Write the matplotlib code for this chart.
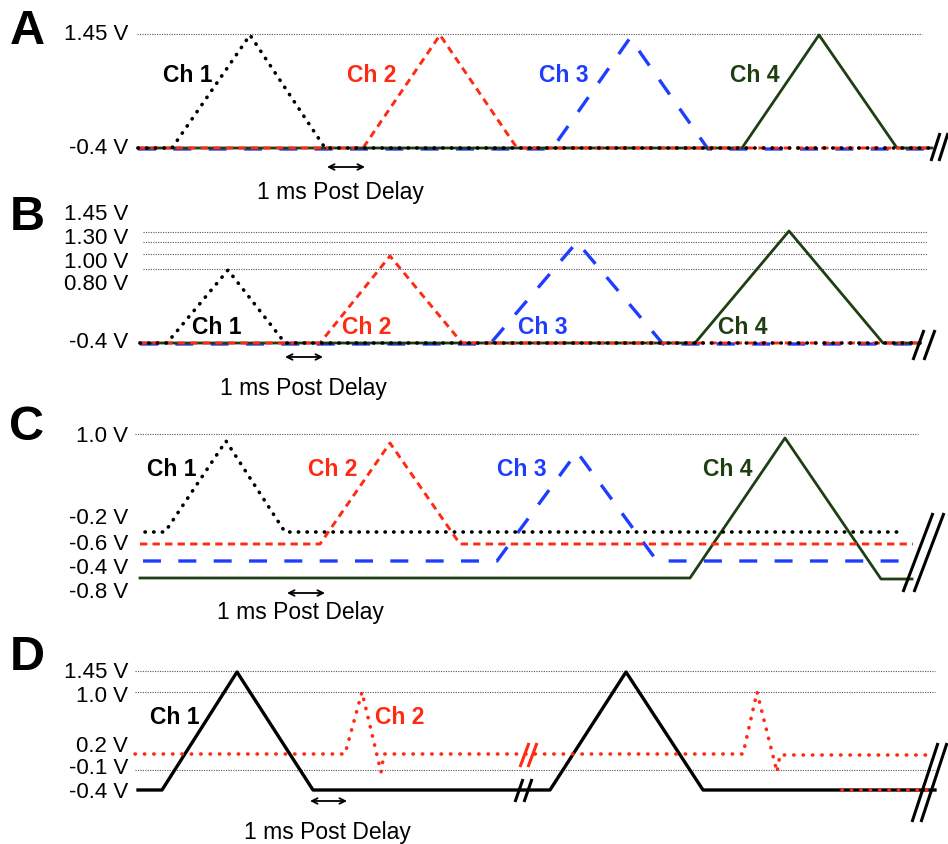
import matplotlib
matplotlib.use("Agg")
import matplotlib.pyplot as plt

plt.rcParams['font.family'] = ['Liberation Sans', 'DejaVu Sans']

RED = '#ff2a12'
BLUE = '#1f3dff'
GREEN = '#1f3f12'
BLACK = '#000000'

# ---------------- Panel data (diagram coordinates: x = time, y = level) ----------------
# Panel A
A_ticks = ['1.45 V', '-0.4 V']
A_tick_y = [34, 148]
A_grid_y = [34]
A_ch1_x = [138, 172, 250, 325, 932]; A_ch1_y = [148, 148, 35, 148, 148]
A_ch2_x = [138, 363, 440, 517, 932]; A_ch2_y = [148, 148, 35, 148, 148]
A_ch3_x = [138, 552, 630, 708, 932]; A_ch3_y = [149, 149, 38, 149, 149]
A_ch4_x = [138, 742, 819, 897, 932]; A_ch4_y = [148, 148, 35, 148, 148]
A_labels_x = [188, 372, 564, 755]; A_labels_y = 75

# Panel B
B_ticks = ['1.45 V', '1.30 V', '1.00 V', '0.80 V', '-0.4 V']
B_tick_y = [215, 238, 262, 285, 342]
B_grid_y = [232, 242, 254, 269]
B_ch1_x = [140, 167, 228, 285, 920]; B_ch1_y = [343, 343, 270, 343, 343]
B_ch2_x = [140, 320, 390, 462, 920]; B_ch2_y = [343, 343, 256, 343, 343]
B_ch3_x = [140, 490, 577, 663, 920]; B_ch3_y = [344, 344, 242, 344, 344]
B_ch4_x = [140, 695, 789, 883, 920]; B_ch4_y = [343, 343, 231, 343, 343]
B_labels_x = [217, 367, 543, 743]; B_labels_y = 327

# Panel C
C_ticks = ['1.0 V', '-0.2 V', '-0.6 V', '-0.4 V', '-0.8 V']
C_tick_y = [437, 518, 544, 568, 592]
C_grid_y = [434]
C_ch1_x = [145, 165, 226, 285, 903]; C_ch1_y = [532, 532, 441, 532, 532]
C_ch2_x = [140, 320, 390, 460, 913]; C_ch2_y = [544, 544, 443, 544, 544]
C_ch3_x = [143, 497, 577, 657, 915]; C_ch3_y = [561, 561, 452, 561, 561]
C_ch4_x = [140, 690, 785, 881, 912]; C_ch4_y = [578, 578, 438, 579, 579]
C_labels_x = [172, 333, 522, 728]; C_labels_y = 470

# Panel D
D_ticks = ['1.45 V', '1.0 V', '0.2 V', '-0.1 V', '-0.4 V']
D_tick_y = [673, 697, 747, 769, 793]
D_grid_y = [671, 692, 770]
D_ch1_x = [138, 162, 237, 313, 550, 626, 703, 935]
D_ch1_y = [790, 790, 672, 790, 790, 672, 790, 790]
D_ch2_x = [135, 345, 362, 381, 384, 743, 757, 777, 780, 933]
D_ch2_y = [754, 754, 692, 772, 754, 754, 692, 772, 755, 755]
D_ch2_tail_x = [842, 935]; D_ch2_tail_y = [790, 790]
D_labels_x = [175, 400]; D_labels_y = 718

panel_letters = ['A', 'B', 'C', 'D']
panel_letter_y = [32, 218, 428, 658]
grid_x = [(137, 922), (143, 927), (135, 918), (135, 935)]
delay_arrow = [(327, 365, 167), (285, 323, 357), (287, 325, 593), (310, 347, 801)]
delay_text = [(340, 192), (303, 389), (300, 613), (327, 832)]
# break marks: (x_bottom, y_bottom, x_top, y_top, spacing, colour)
breaks = [(931, 161, 940, 133, 8, BLACK),
          (913, 360, 924, 330, 11, BLACK),
          (903, 592, 933, 513, 11, BLACK),
          (515, 802, 523, 779, 9, BLACK),
          (520, 767, 529, 743, 8, RED),
          (912, 822, 938, 743, 9, BLACK)]

# ---------------- Styles ----------------
sty1 = dict(color=BLACK, lw=2.6, ls=(0, (0.1, 2.3)), dash_capstyle='round', zorder=5)
sty2 = dict(color=RED, lw=2.1, ls=(0, (2.5, 1.8)), zorder=4)
sty3 = dict(color=BLUE, lw=2.4, ls=(0, (5.4, 5.2)), zorder=2)
sty4 = dict(color=GREEN, lw=2.0, ls='-', zorder=3)
grid_sty = dict(color='#555555', lw=0.8, ls=(0, (1.0, 1.2)), zorder=1)

fig = plt.figure(figsize=(9.48, 8.44), dpi=100)
ax = fig.add_axes([0, 0, 1, 1])
ax.set_xlim(0, 948)
ax.set_ylim(844, 0)
ax.axis('off')

def tick_labels(labels, ys):
    for t, y in zip(labels, ys):
        ax.text(128, y, t, ha='right', va='center', fontsize=16, color='black')

def grid(ys, xr):
    for y in ys:
        ax.plot(list(xr), [y, y], **grid_sty)

def ch_labels(xs, y, colors):
    for i, (x, c) in enumerate(zip(xs, colors)):
        ax.text(x, y, f'Ch {i+1}', ha='center', va='center', fontsize=16.5,
                fontweight='bold', color=c, zorder=6)

# panel letters
for L, y in zip(panel_letters, panel_letter_y):
    ax.text(27, y, L, ha='center', va='center', fontsize=35, fontweight='bold')

# Panel A
tick_labels(A_ticks, A_tick_y)
grid(A_grid_y, grid_x[0])
ax.plot(A_ch3_x, A_ch3_y, **sty3)
ax.plot(A_ch4_x, A_ch4_y, **sty4)
ax.plot(A_ch2_x, A_ch2_y, **sty2)
ax.plot(A_ch1_x, A_ch1_y, **sty1)
ch_labels(A_labels_x, A_labels_y, [BLACK, RED, BLUE, GREEN])

# Panel B
tick_labels(B_ticks, B_tick_y)
grid(B_grid_y, grid_x[1])
ax.plot(B_ch3_x, B_ch3_y, **sty3)
ax.plot(B_ch4_x, B_ch4_y, **sty4)
ax.plot(B_ch2_x, B_ch2_y, **sty2)
ax.plot(B_ch1_x, B_ch1_y, **sty1)
ch_labels(B_labels_x, B_labels_y, [BLACK, RED, BLUE, GREEN])

# Panel C
tick_labels(C_ticks, C_tick_y)
grid(C_grid_y, grid_x[2])
ax.plot(C_ch3_x, C_ch3_y, **sty3)
ax.plot(C_ch4_x, C_ch4_y, **sty4)
ax.plot(C_ch2_x, C_ch2_y, **sty2)
ax.plot(C_ch1_x, C_ch1_y, **sty1)
ch_labels(C_labels_x, C_labels_y, [BLACK, RED, BLUE, GREEN])

# Panel D
tick_labels(D_ticks, D_tick_y)
grid(D_grid_y, grid_x[3])
ax.plot(D_ch1_x, D_ch1_y, color=BLACK, lw=2.4, zorder=3)
dsty = dict(color=RED, lw=2.6, ls=(0, (0.1, 2.5)), dash_capstyle='round', zorder=4)
ax.plot(D_ch2_x, D_ch2_y, **dsty)
ax.plot(D_ch2_tail_x, D_ch2_tail_y, **dsty)
ch_labels(D_labels_x, D_labels_y, [BLACK, RED])

# delay arrows and text
for (x1, x2, y), (tx, ty) in zip(delay_arrow, delay_text):
    ax.annotate('', xy=(x2, y), xytext=(x1, y),
                arrowprops=dict(arrowstyle='<->', lw=1.3, color='black',
                                shrinkA=0, shrinkB=0, mutation_scale=10))
    ax.text(tx, ty, '1 ms Post Delay', ha='center', va='center', fontsize=16.5)

# break marks
for xb, yb, xt, yt, sp, c in breaks:
    for k in (0, 1):
        ax.plot([xb + k * sp, xt + k * sp], [yb, yt], color=c, lw=2.2,
                solid_capstyle='butt', zorder=7)

fig.savefig('out.png', dpi=100)
